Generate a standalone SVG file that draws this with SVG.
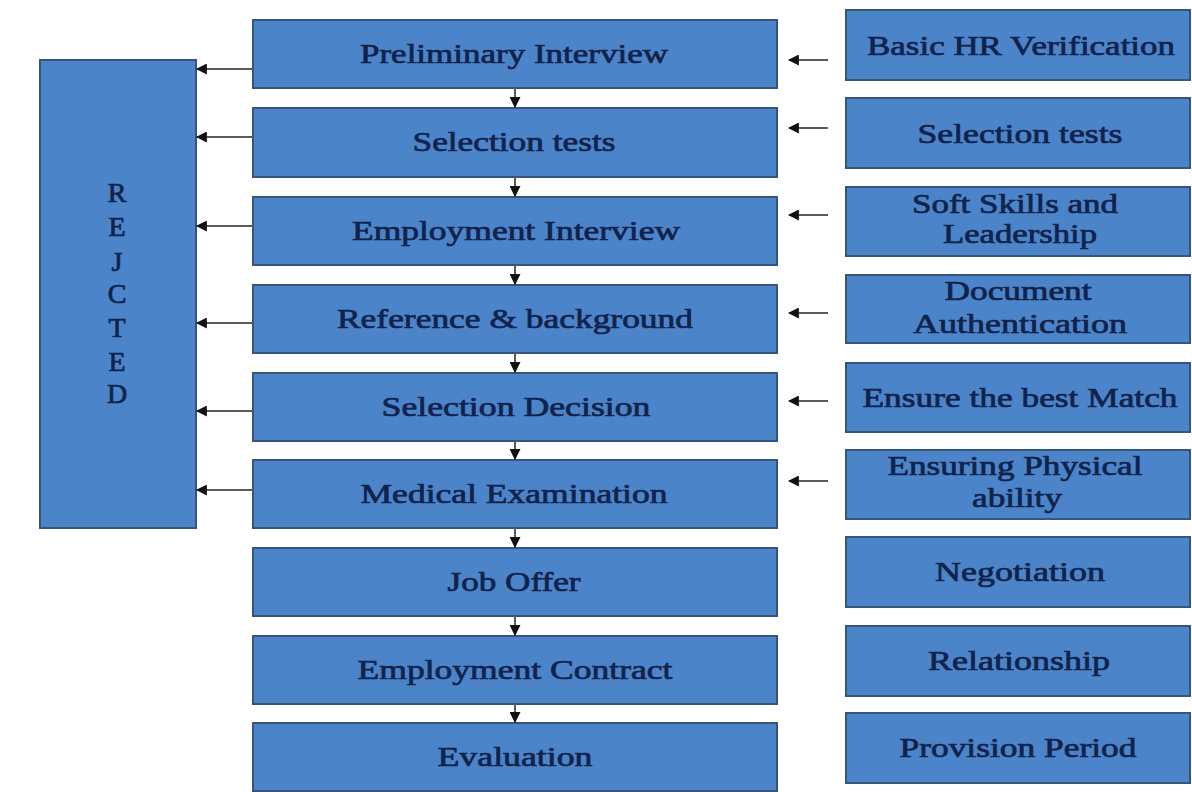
<svg xmlns="http://www.w3.org/2000/svg" width="1192" height="792" viewBox="0 0 1192 792">
<defs>
<style>
.box{fill:#4b84c9;stroke:#36557d;stroke-width:2}
.t{font-family:"Liberation Serif","Times New Roman",serif;font-size:28px;fill:#11224b;stroke:#11224b;stroke-width:0.7;text-anchor:middle}
.c{stroke:#5a5a5a;stroke-width:2;fill:none}
</style>
<marker id="ah" viewBox="0 0 10 10" refX="9" refY="5" markerWidth="5.5" markerHeight="5.5" orient="auto" markerUnits="strokeWidth">
<path d="M0,0 L10,5 L0,10 z" fill="#111"/>
</marker>
</defs>
<rect width="1192" height="792" fill="#fff"/>

<g id="rejected">
<rect class="box" x="40" y="60" width="156" height="468"/>
<text class="t" x="117" y="202">R</text>
<text class="t" x="117" y="236">E</text>
<text class="t" x="117" y="271">J</text>
<text class="t" x="117" y="303">C</text>
<text class="t" x="117" y="337">T</text>
<text class="t" x="117" y="371">E</text>
<text class="t" x="117" y="403">D</text>
</g>

<g id="preliminary-interview"><rect class="box" x="253" y="20" width="524" height="68"/><text class="t" x="514" y="63" textLength="308" lengthAdjust="spacingAndGlyphs">Preliminary Interview</text></g>
<g id="selection-tests"><rect class="box" x="253" y="108" width="524" height="69"/><text class="t" x="514" y="151" textLength="203" lengthAdjust="spacingAndGlyphs">Selection tests</text></g>
<g id="employment-interview"><rect class="box" x="253" y="197" width="524" height="68"/><text class="t" x="516" y="240" textLength="328" lengthAdjust="spacingAndGlyphs">Employment Interview</text></g>
<g id="reference-background"><rect class="box" x="253" y="285" width="524" height="68"/><text class="t" x="515" y="328" textLength="356" lengthAdjust="spacingAndGlyphs">Reference &amp; background</text></g>
<g id="selection-decision"><rect class="box" x="253" y="373" width="524" height="68"/><text class="t" x="516" y="416" textLength="269" lengthAdjust="spacingAndGlyphs">Selection Decision</text></g>
<g id="medical-examination"><rect class="box" x="253" y="460" width="524" height="68"/><text class="t" x="514" y="503" textLength="307" lengthAdjust="spacingAndGlyphs">Medical Examination</text></g>
<g id="job-offer"><rect class="box" x="253" y="548" width="524" height="68"/><text class="t" x="514" y="591" textLength="133" lengthAdjust="spacingAndGlyphs">Job Offer</text></g>
<g id="employment-contract"><rect class="box" x="253" y="636" width="524" height="68"/><text class="t" x="515" y="679" textLength="315" lengthAdjust="spacingAndGlyphs">Employment Contract</text></g>
<g id="evaluation"><rect class="box" x="253" y="723" width="524" height="68"/><text class="t" x="515" y="766" textLength="155" lengthAdjust="spacingAndGlyphs">Evaluation</text></g>

<g id="basic-hr-verification"><rect class="box" x="846" y="10" width="344" height="70"/><text class="t" x="1021" y="55" textLength="308" lengthAdjust="spacingAndGlyphs">Basic HR Verification</text></g>
<g id="selection-tests-r"><rect class="box" x="846" y="98" width="344" height="70"/><text class="t" x="1020" y="143" textLength="205" lengthAdjust="spacingAndGlyphs">Selection tests</text></g>
<g id="soft-skills"><rect class="box" x="846" y="187" width="344" height="69"/><text class="t" x="1015" y="213" textLength="206" lengthAdjust="spacingAndGlyphs">Soft Skills and</text><text class="t" x="1020" y="243" textLength="154" lengthAdjust="spacingAndGlyphs">Leadership</text></g>
<g id="document-authentication"><rect class="box" x="846" y="275" width="344" height="68"/><text class="t" x="1018" y="300" textLength="147" lengthAdjust="spacingAndGlyphs">Document</text><text class="t" x="1020" y="333" textLength="214" lengthAdjust="spacingAndGlyphs">Authentication</text></g>
<g id="best-match"><rect class="box" x="846" y="363" width="344" height="69"/><text class="t" x="1020" y="407" textLength="315" lengthAdjust="spacingAndGlyphs">Ensure the best Match</text></g>
<g id="physical-ability"><rect class="box" x="846" y="450" width="344" height="69"/><text class="t" x="1015" y="475" textLength="255" lengthAdjust="spacingAndGlyphs">Ensuring Physical</text><text class="t" x="1017" y="507" textLength="90" lengthAdjust="spacingAndGlyphs">ability</text></g>
<g id="negotiation"><rect class="box" x="846" y="537" width="344" height="70"/><text class="t" x="1020" y="581" textLength="170" lengthAdjust="spacingAndGlyphs">Negotiation</text></g>
<g id="relationship"><rect class="box" x="846" y="626" width="344" height="70"/><text class="t" x="1019" y="670" textLength="182" lengthAdjust="spacingAndGlyphs">Relationship</text></g>
<g id="provision-period"><rect class="box" x="846" y="713" width="344" height="70"/><text class="t" x="1018" y="757" textLength="237" lengthAdjust="spacingAndGlyphs">Provision Period</text></g>

<g id="connectors">
<line class="c" x1="253" y1="69" x2="197" y2="69" marker-end="url(#ah)"/>
<line class="c" x1="253" y1="137" x2="197" y2="137" marker-end="url(#ah)"/>
<line class="c" x1="253" y1="226" x2="197" y2="226" marker-end="url(#ah)"/>
<line class="c" x1="253" y1="323" x2="197" y2="323" marker-end="url(#ah)"/>
<line class="c" x1="253" y1="411" x2="197" y2="411" marker-end="url(#ah)"/>
<line class="c" x1="253" y1="490" x2="197" y2="490" marker-end="url(#ah)"/>

<line class="c" x1="828" y1="60" x2="789" y2="60" marker-end="url(#ah)"/>
<line class="c" x1="828" y1="128" x2="789" y2="128" marker-end="url(#ah)"/>
<line class="c" x1="828" y1="215" x2="789" y2="215" marker-end="url(#ah)"/>
<line class="c" x1="828" y1="313" x2="789" y2="313" marker-end="url(#ah)"/>
<line class="c" x1="828" y1="401" x2="789" y2="401" marker-end="url(#ah)"/>
<line class="c" x1="828" y1="481" x2="789" y2="481" marker-end="url(#ah)"/>

<line class="c" x1="515" y1="88" x2="515" y2="107" marker-end="url(#ah)"/>
<line class="c" x1="515" y1="177" x2="515" y2="196" marker-end="url(#ah)"/>
<line class="c" x1="515" y1="265" x2="515" y2="284" marker-end="url(#ah)"/>
<line class="c" x1="515" y1="353" x2="515" y2="372" marker-end="url(#ah)"/>
<line class="c" x1="515" y1="441" x2="515" y2="459" marker-end="url(#ah)"/>
<line class="c" x1="515" y1="528" x2="515" y2="547" marker-end="url(#ah)"/>
<line class="c" x1="515" y1="616" x2="515" y2="635" marker-end="url(#ah)"/>
<line class="c" x1="515" y1="704" x2="515" y2="722" marker-end="url(#ah)"/>
</g>
</svg>
